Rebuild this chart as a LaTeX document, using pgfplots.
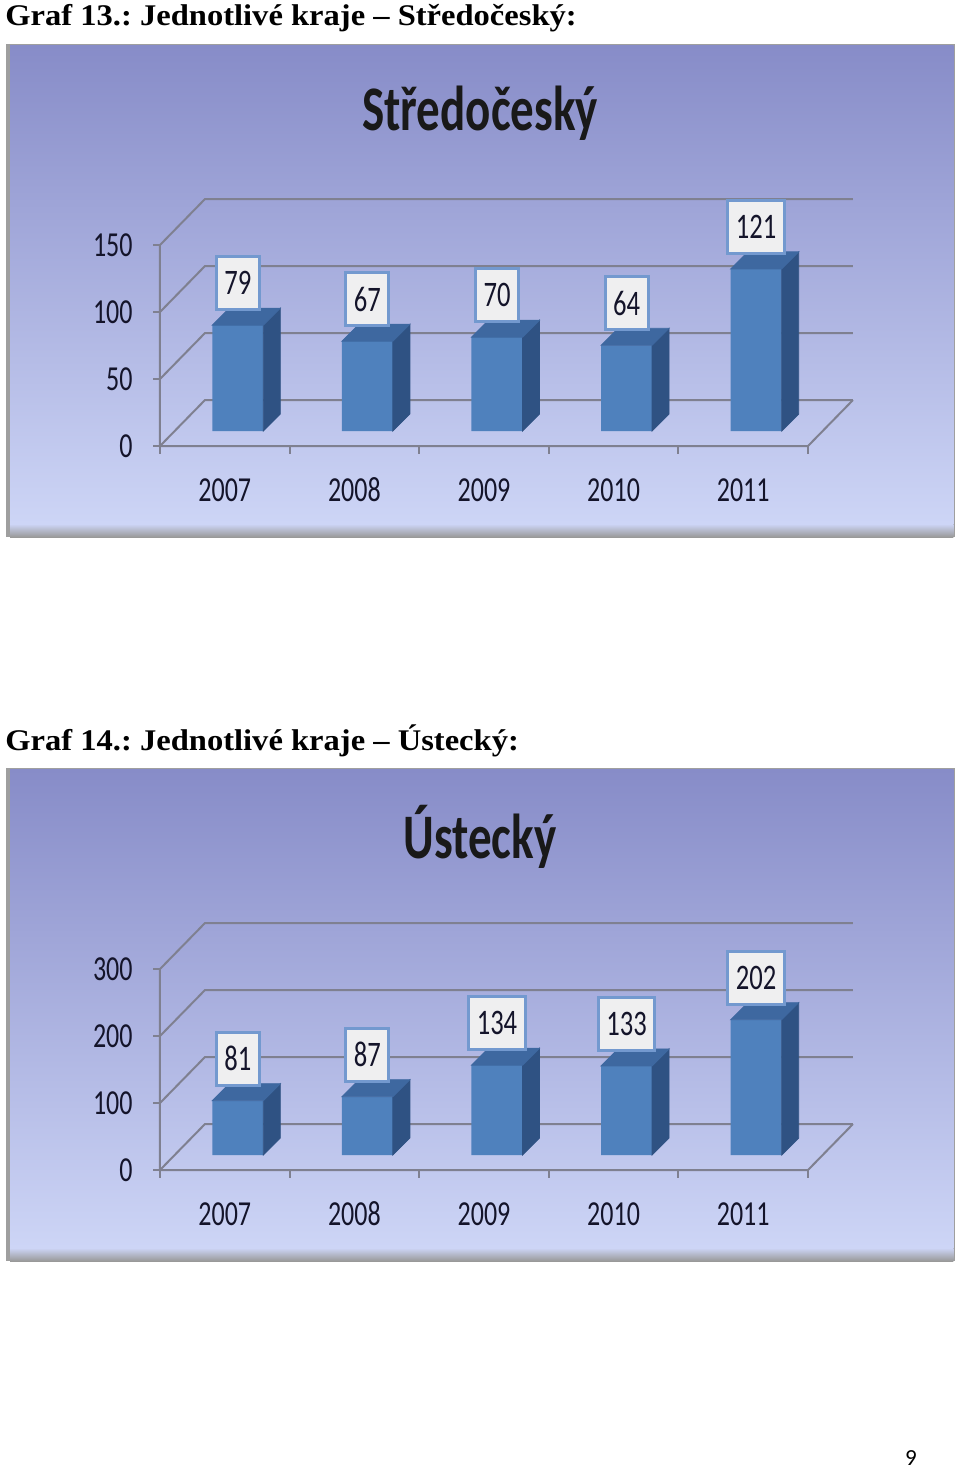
\documentclass[border=0pt]{standalone}
\usepackage{pgfplots}
\pgfplotsset{compat=1.18}
\usepackage{pgfplotstable}
\usepackage{graphicx}
\usepackage{fontspec}
\setmainfont{Liberation Serif}
\newfontfamily\calibri{Carlito}

\definecolor{bgtop}{HTML}{878CC8}
\definecolor{bgbot}{HTML}{CDD5F6}
\definecolor{gridc}{HTML}{7F8090}
\definecolor{barfront}{HTML}{4F81BD}
\definecolor{bartop}{HTML}{3E68A0}
\definecolor{barside}{HTML}{2F5283}
\definecolor{boxfill}{HTML}{EFEFF0}
\definecolor{boxdraw}{HTML}{7399CF}
\definecolor{txt}{HTML}{14142A}

% text in the charts is stretched vertically
\newcommand\vs[1]{\scalebox{1}[1.35]{#1}}
\pgfdeclareplotmark{nothing}{}

\pgfplotstableread{
x v
0 79
1 67
2 70
3 64
4 121
}\stred

\pgfplotstableread{
x v
0 81
1 87
2 134
3 133
4 202
}\ust

\pgfplotsset{
  kraj/.style={
    scale only axis, width=324pt, height=100.5pt, anchor=south west,
    xmin=-0.5, xmax=4.5, ymin=0, clip=false,
    axis line style={draw=none}, major tick length=0pt,
    /pgf/number format/assume math mode=true,
    xtick={0,...,4},
    xticklabels={\vs{2007},\vs{2008},\vs{2009},\vs{2010},\vs{2011}},
    xticklabel style={anchor=center, inner sep=0pt, xshift=-6.5pt, yshift=-29.5pt},
    yticklabel={\vs{\pgfmathprintnumber{\tick}}},
    yticklabel style={anchor=east, inner sep=0pt, xshift=-20pt, yshift=-7.5pt},
    tick label style={font=\calibri\fontsize{13}{14}\selectfont, text=txt},
  },
  front/.style={ybar, bar width=25.5pt, fill=barfront, draw=none},
  faces/.style={
    scatter, only marks, mark=nothing,
    visualization depends on={\thisrow{v} \as \val},
    scatter/@pre marker code/.code={
      \fill[barside] (12.75pt,0pt) -- (21.25pt,8.5pt)
        -- ([shift={(21.25pt,8.5pt)}]axis direction cs:0,-\val)
        -- ([shift={(12.75pt,0pt)}]axis direction cs:0,-\val) -- cycle;
      \fill[bartop] (-12.75pt,0pt) -- (12.75pt,0pt) -- (21.25pt,8.5pt) -- (-4.25pt,8.5pt) -- cycle;
    },
    scatter/@post marker code/.code={},
  },
  labels/.style={
    only marks, mark=nothing,
    nodes near coords={\vs{\pgfmathprintnumber{\pgfplotspointmeta}}},
    nodes near coords style={anchor=south, yshift=7pt, fill=boxfill, draw=boxdraw,
      line width=1.5pt, inner xsep=4pt, inner ysep=0pt, minimum height=26.5pt,
      font=\calibri\fontsize{13.3}{14}\selectfont, text=txt},
  },
}

% grey walls and floor of the 3D frame
\newcommand\steny[2]{%
  \pgfplotsinvokeforeach{#1}{%
    \draw[gridc, line width=1pt] ([shift={(-6.5pt,-7.5pt)}]axis cs:-0.5,##1)
      -- ([shift={(16pt,15.5pt)}]axis cs:-0.5,##1) -- ([shift={(16pt,15.5pt)}]axis cs:4.5,##1);
    \draw[gridc, line width=1pt] ([shift={(-6.5pt,-7.5pt)}]axis cs:-0.5,##1) -- ++(-3.5pt,0pt);
  }
  \draw[gridc, line width=1pt] ([shift={(-6.5pt,-7.5pt)}]axis cs:-0.5,#2)
    -- ([shift={(-6.5pt,-7.5pt)}]axis cs:-0.5,0) -- ([shift={(-6.5pt,-7.5pt)}]axis cs:4.5,0)
    -- ([shift={(16pt,15.5pt)}]axis cs:4.5,0);
  \pgfplotsinvokeforeach{-0.5,0.5,1.5,2.5,3.5,4.5}{%
    \draw[gridc, line width=1pt] ([shift={(-6.5pt,-7.5pt)}]axis cs:##1,0) -- ++(0pt,-4pt);
  }
}

\newcommand\ramec[1]{% top edge of the chart frame
  \fill[gray!75] (3pt,#1) rectangle (477.5pt,#1-246.5pt);
  \shade[top color=bgtop, bottom color=bgbot] (5pt,#1-0.7pt) rectangle (476.7pt,#1-240pt);
  \shade[top color=bgbot, bottom color=gray!80] (5pt,#1-240pt) rectangle (476.7pt,#1-246.5pt);
}

\newcommand\popisek[1]{\scalebox{1.085}[1]{\bfseries\fontsize{15}{18}\selectfont\frenchspacing #1}}

\begin{document}
\begin{tikzpicture}
\path[use as bounding box] (0,0) rectangle (480pt,-734.5pt);

\node[anchor=base west, inner sep=0pt] at (2.5pt,-12.5pt)
  {\popisek{Graf 13.: Jednotlivé kraje – Středočeský:}};
\ramec{-22pt}
\node[font=\calibri\bfseries\fontsize{23.5}{28}\selectfont, text=black!90]
  at (240pt,-56.5pt) {\vs{Středočeský}};

\begin{axis}[kraj, at={(86.5pt,-215.5pt)}, ymax=150, ytick={0,50,100,150}]
  \steny{0,50,100,150}{150}
  \addplot[front] table[x=x,y=v]{\stred};
  \addplot[faces] table[x=x,y=v]{\stred};
  \addplot[labels] table[x=x,y=v]{\stred};
\end{axis}

\node[anchor=base west, inner sep=0pt] at (2.5pt,-375pt)
  {\popisek{Graf 14.: Jednotlivé kraje – Ústecký:}};
\ramec{-384pt}
\node[font=\calibri\bfseries\fontsize{23.5}{28}\selectfont, text=black!90]
  at (240pt,-418.5pt) {\vs{Ústecký}};

\begin{axis}[kraj, at={(86.5pt,-577.5pt)}, ymax=300, ytick={0,100,200,300}]
  \steny{0,100,200,300}{300}
  \addplot[front] table[x=x,y=v]{\ust};
  \addplot[faces] table[x=x,y=v]{\ust};
  \addplot[labels] table[x=x,y=v]{\ust};
\end{axis}

\node[font=\calibri\fontsize{11.5}{13}\selectfont] at (455.5pt,-729pt) {9};
\end{tikzpicture}
\end{document}
